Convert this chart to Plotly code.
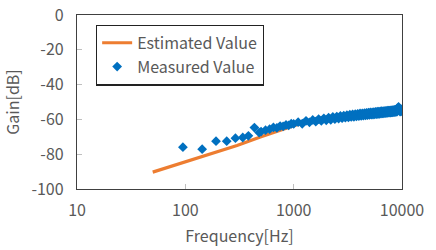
import plotly.graph_objects as go

est_freq = [50, 100, 200, 300, 500, 700, 1000, 1500, 2000, 3000, 5000, 7000, 10000]
est_gain = [-90.3, -84.5, -78.5, -75.0, -70.0, -67.0, -63.6, -60.6, -58.7, -56.9, -55.6, -55.2, -55.0]

meas_freq = [95, 143, 192, 241, 290, 339, 382, 434, 480,
             500, 550, 600, 650, 700, 750, 800, 850, 900, 950, 1000,
             1100, 1200, 1300, 1400, 1500, 1600, 1700, 1800, 1900, 2000,
             2100, 2200, 2300, 2400, 2500, 2600, 2700, 2800, 2900, 3000,
             3100, 3200, 3300, 3400, 3500, 3600, 3700, 3800, 3900, 4000,
             4100, 4200, 4300, 4400, 4500, 4600, 4700, 4800, 4900, 5000,
             5100, 5200, 5300, 5400, 5500, 5600, 5700, 5800, 5900, 6000,
             6100, 6200, 6300, 6400, 6500, 6600, 6700, 6800, 6900, 7000,
             7100, 7200, 7300, 7400, 7500, 7600, 7700, 7800, 7900, 8000,
             8100, 8200, 8300, 8400, 8500, 8600, 8700, 8800, 8900, 9000,
             9100, 9200, 9300, 9400, 9500, 9600, 9700, 9800, 9900, 10000]
meas_gain = [-76.0, -77.1, -72.5, -72.5, -70.8, -70.4, -69.4, -64.7, -67.6,
             -67.0, -66.2, -65.6, -64.6, -64.9, -63.8, -64.0, -63.2, -63.4, -62.5, -62.6,
             -61.6, -62.5, -60.8, -61.7, -60.3, -61.3, -59.8, -60.9, -59.4, -60.5,
             -59.0, -60.2, -58.6, -59.9, -58.4, -59.5, -58.0, -59.3, -57.8, -59.0,
             -57.6, -58.9, -57.3, -58.6, -57.1, -58.5, -57.0, -58.3, -56.8, -58.1,
             -56.6, -58.0, -56.5, -57.8, -56.4, -57.7, -56.2, -57.6, -56.1, -57.4,
             -56.0, -57.3, -55.9, -57.2, -55.8, -57.1, -55.7, -57.0, -55.6, -56.9,
             -55.5, -56.8, -55.4, -56.7, -55.3, -56.6, -55.3, -56.5, -55.2, -56.4,
             -55.1, -56.3, -55.0, -56.2, -55.0, -56.1, -54.9, -56.1, -54.8, -56.0,
             -54.7, -55.9, -54.7, -55.8, -54.6, -55.8, -54.5, -55.7, -54.3, -55.6,
             -54.0, -53.4, -52.8, -53.8, -54.4, -55.5, -54.3, -55.4, -54.2, -55.1]

x_ticks = [10, 100, 1000, 10000]
x_tick_labels = ["10", "100", "1000", "10000"]
y_ticks = [0, -20, -40, -60, -80, -100]
y_tick_labels = ["0", "-20", "-40", "-60", "-80", "-100"]

FONT = "Noto Sans CJK JP"
TXT = "#595959"
FS = 16

fig = go.Figure()
fig.add_trace(go.Scatter(
    x=est_freq, y=est_gain, mode="lines", name="Estimated Value",
    line=dict(color="#ED7D31", width=3.2), legendgroup="a"))
fig.add_trace(go.Scatter(
    x=meas_freq, y=meas_gain, mode="markers", name="Measured Value",
    marker=dict(symbol="diamond", color="#0070C0", size=7.5, line=dict(width=0)),
    legendgroup="b"))

fig.update_layout(
    width=436, height=250,
    margin=dict(l=77, r=34, t=15, b=61, autoexpand=False),
    paper_bgcolor="white", plot_bgcolor="white",
    font=dict(family=FONT, size=FS, color=TXT),
    showlegend=True,
    legend=dict(x=0.058, y=0.945, xanchor="left", yanchor="top",
                bordercolor="#222222", borderwidth=1.3, bgcolor="white",
                font=dict(family=FONT, size=FS, color=TXT),
                traceorder="grouped", tracegroupgap=0),
    xaxis=dict(type="log", range=[1, 4], tickvals=x_ticks, ticktext=x_tick_labels,
               automargin=False, ticklabeloverflow="allow", ticklabelstandoff=7,
               showgrid=False, zeroline=False, showline=True, mirror=True,
               linecolor="#404040", linewidth=1.3,
               ticks="inside", ticklen=5, tickcolor="#bfbfbf",
               title=dict(text="Frequency[Hz]", standoff=10,
                          font=dict(family=FONT, size=FS, color=TXT)),
               tickfont=dict(family=FONT, size=FS, color=TXT)),
    yaxis=dict(range=[-100, 0], tickvals=y_ticks, ticktext=y_tick_labels,
               automargin=False, ticklabeloverflow="allow", ticklabelstandoff=9,
               showgrid=False, zeroline=False, showline=True, mirror=True,
               linecolor="#404040", linewidth=1.3,
               ticks="inside", ticklen=5, tickcolor="#bfbfbf",
               title=dict(text="Gain[dB]", standoff=9,
                          font=dict(family=FONT, size=FS, color=TXT)),
               tickfont=dict(family=FONT, size=FS, color=TXT)),
)

fig.write_html("out.html", config={"displayModeBar": False},
               post_script="document.body.style.margin='0';")
